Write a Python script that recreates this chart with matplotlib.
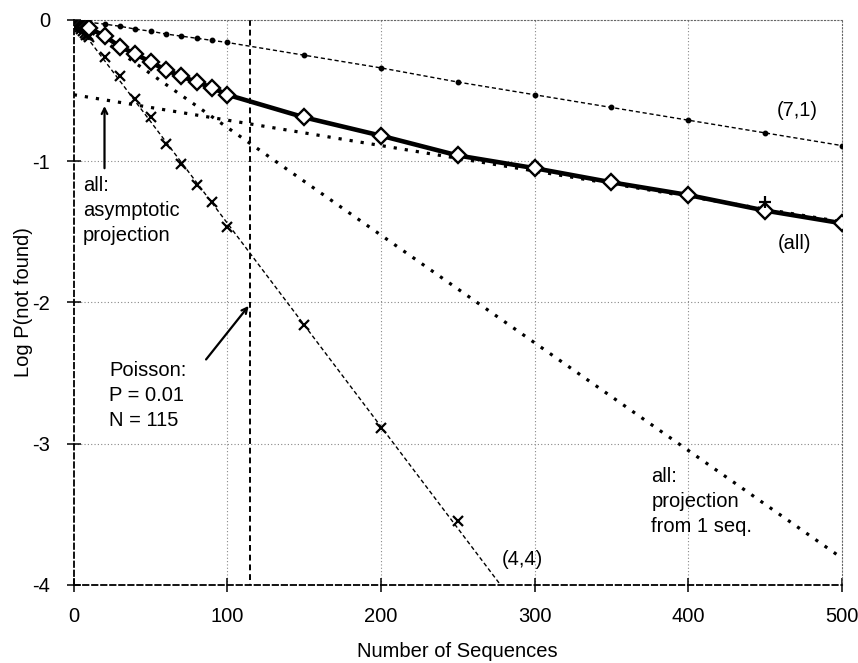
import numpy as np
from matplotlib import pyplot as plt

plt.rcParams['font.family'] = ['Liberation Sans', 'DejaVu Sans']

# number of sequences sampled
seqs = [0, 1, 2, 3, 4, 5, 6, 7, 8, 9, 10, 20, 30, 40, 50, 60, 70, 80, 90, 100,
        150, 200, 250, 300, 350, 400, 450, 500]

# log P(not found), all motifs
all_y = [0, -0.01, -0.015, -0.02, -0.03, -0.035, -0.04, -0.045, -0.05, -0.055, -0.06,
         -0.113, -0.19, -0.24, -0.30, -0.354, -0.40, -0.44, -0.48, -0.53,
         -0.69, -0.82, -0.96, -1.05, -1.15, -1.24, -1.35, -1.44]

# (7,1) motif
m71_y = [0, -0.002, -0.004, -0.005, -0.007, -0.009, -0.01, -0.012, -0.014, -0.015, -0.017,
         -0.03, -0.045, -0.065, -0.08, -0.10, -0.115, -0.13, -0.145, -0.16,
         -0.25, -0.34, -0.44, -0.53, -0.62, -0.71, -0.80, -0.89]

# (4,4) motif, measured up to 250
m44_x = [0, 1, 2, 3, 4, 5, 6, 7, 8, 9, 10, 20, 30, 40, 50, 60, 70, 80, 90, 100, 150, 200, 250]
m44_y = [0, -0.013, -0.026, -0.039, -0.052, -0.065, -0.078, -0.091, -0.104, -0.11, -0.12,
         -0.26, -0.40, -0.56, -0.69, -0.88, -1.02, -1.17, -1.29, -1.47, -2.16, -2.89, -3.55]

plus_x = [450]
plus_y = [-1.29]

# trend / projection lines (slope, intercept)
m44_slope = -0.0144
proj1_slope = -0.00762
asym_slope, asym_icpt = -0.0018, -0.53
poisson_n = 115

fig = plt.figure(figsize=(8.58, 6.63), dpi=100)
ax = fig.add_axes([0.086, 0.118, 0.895, 0.852])

# gridlines
for gx in [100, 200, 300, 400]:
    ax.axvline(gx, color='#888888', lw=0.8, ls=(0, (1, 2)), zorder=0)
for gy in [-1, -2, -3]:
    ax.axhline(gy, color='#888888', lw=0.8, ls=(0, (1, 2)), zorder=0)

xx = np.array([0, 500])
ax.plot(xx, proj1_slope * xx, color='black', lw=2.3, ls=(0, (1, 2.5)), zorder=2)
ax.plot(xx, asym_icpt + asym_slope * xx, color='black', lw=2.3, ls=(0, (1, 2.5)), zorder=2)

tx = np.array([0, 290])
ax.plot(tx, m44_slope * tx, color='black', lw=1.0, ls=(0, (3, 2)), zorder=2)
ax.plot(m44_x, m44_y, color='black', lw=0, marker='x', ms=6.5, mew=1.6, zorder=3)

ax.plot(seqs, m71_y, color='black', lw=1.0, ls=(0, (3, 2)), marker='o', ms=3.2, zorder=3)

ax.plot(seqs, all_y, color='black', lw=3.3, marker='D', ms=8.5, mfc='white', mew=1.7, zorder=4)
ax.plot(plus_x, plus_y, color='black', lw=0, marker='+', ms=8, mew=1.6, zorder=5)

ax.plot([poisson_n, poisson_n], [0, -4], color='black', lw=1.4, ls=(0, (3, 2)), zorder=1)

ax.set_xlim(0, 500)
ax.set_ylim(-4, 0)
ax.set_xticks([0, 100, 200, 300, 400, 500])
ax.set_yticks([0, -1, -2, -3, -4])
ax.set_yticklabels(['0', '-1', '-2', '-3', '-4'])
ax.tick_params(direction='inout', length=10, width=1.1, labelsize=14.5)
ax.tick_params(axis='x', pad=11)
ax.tick_params(axis='y', pad=12)

for s in ['left', 'bottom']:
    ax.spines[s].set_linestyle((0, (3, 2)))
    ax.spines[s].set_linewidth(1.3)
for s in ['top', 'right']:
    ax.spines[s].set_linestyle((0, (1, 2)))
    ax.spines[s].set_linewidth(0.8)
    ax.spines[s].set_color('#666666')

ax.set_xlabel('Number of Sequences', fontsize=14.5)
ax.set_ylabel('Log P(not found)', fontsize=14.5)
ax.xaxis.set_label_coords(0.5, -0.101)
ax.yaxis.set_label_coords(-0.053, 0.5)

fs = 14.5
ax.text(471, -0.64, '(7,1)', fontsize=fs, ha='center', va='center')
ax.text(469, -1.58, '(all)', fontsize=fs, ha='center', va='center')
ax.text(292, -3.82, '(4,4)', fontsize=fs, ha='center', va='center')
ax.text(376, -3.41, 'all:\nprojection\nfrom 1 seq.', fontsize=fs, ha='left', va='center',
        linespacing=1.42)
ax.text(6, -1.35, 'all:\nasymptotic\nprojection', fontsize=fs, ha='left', va='center',
        linespacing=1.42)
ax.text(23, -2.66, 'Poisson:\nP = 0.01\nN = 115', fontsize=fs, ha='left', va='center',
        linespacing=1.42)

ax.annotate('', xy=(20, -0.59), xytext=(20, -1.07),
            arrowprops=dict(arrowstyle='->', color='black', lw=1.6))
ax.annotate('', xy=(poisson_n, -2.01), xytext=(85, -2.42),
            arrowprops=dict(arrowstyle='->', color='black', lw=1.6))

fig.savefig('out.png', dpi=100)
